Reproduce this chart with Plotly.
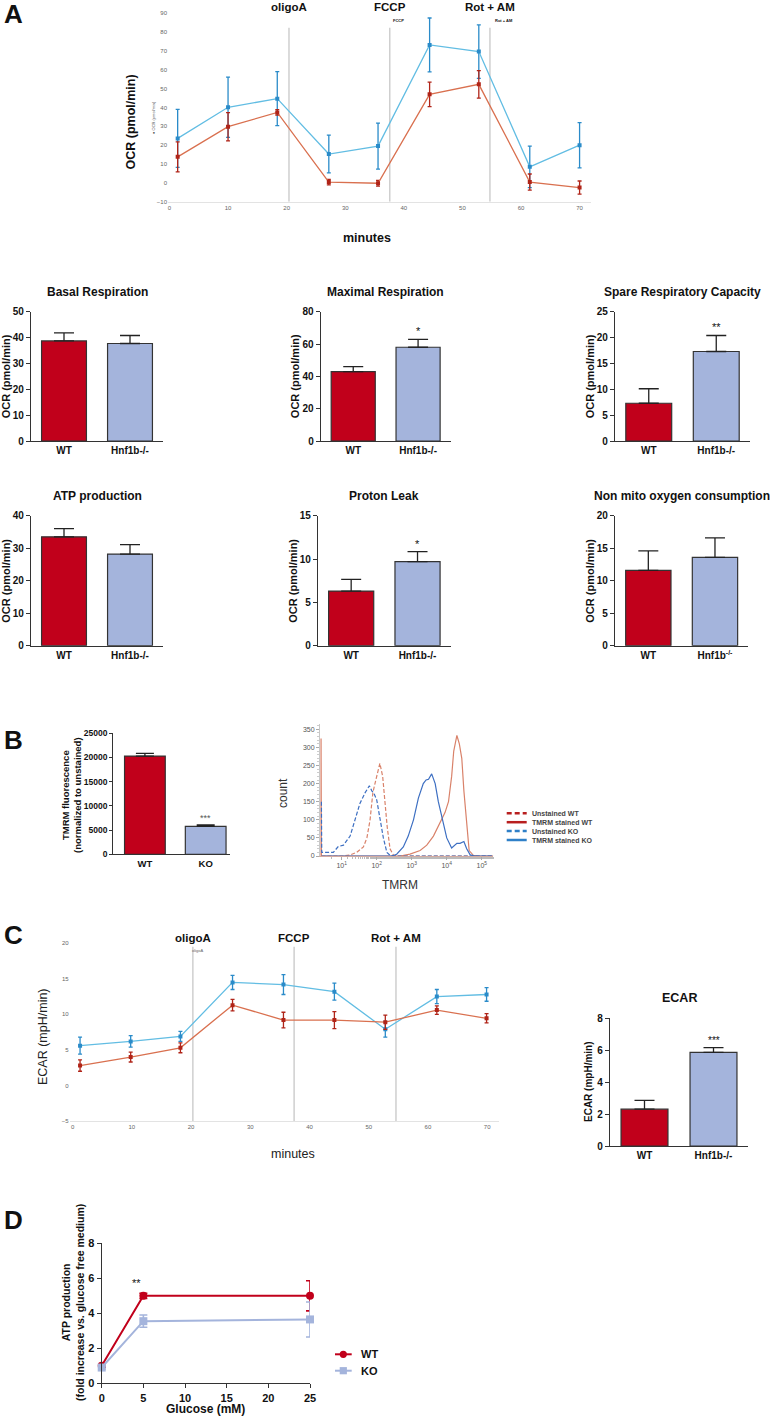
import numpy as np
import plotly.graph_objects as go

W, H = 775, 1421

# ---- data ----
# A: OCR time course (Seahorse)
time_a = [1.4, 10.0, 18.4, 27.2, 35.6, 44.4, 52.8, 61.5, 70.0]
ocr_ko = [23.6, 40.1, 44.7, 15.3, 19.5, 73.2, 69.7, 8.5, 20.0]
ocr_ko_err = [15.4, 16.0, 14.3, 10.0, 12.2, 14.3, 14.2, 11.0, 12.0]
ocr_wt = [13.8, 29.8, 37.4, 0.4, -0.2, 47.0, 52.3, 0.4, -2.5]
ocr_wt_err = [8.0, 7.5, 1.5, 1.5, 1.5, 6.5, 7.3, 4.3, 3.5]
inject_a = [20.4, 37.6, 54.7]
inject_labels = ["oligoA", "FCCP", "Rot + AM"]

# A: bar summaries
groups = ["WT", "Hnf1b-/-"]
basal = [38.7, 37.7]
basal_err = [3.1, 3.1]
maximal = [42.9, 58.0]
maximal_err = [3.1, 4.9]
spare = [7.3, 17.3]
spare_err = [2.8, 3.1]
atp = [33.5, 28.2]
atp_err = [2.5, 2.9]
leak = [6.3, 9.7]
leak_err = [1.35, 1.15]
nonmito = [11.6, 13.6]
nonmito_err = [3.0, 3.0]

# B
tmrm_groups = ["WT", "KO"]
tmrm = [20300, 5750]
tmrm_err = [550, 300]

# B histogram (log10 TMRM, count)
unst_ko_log = [0.42, 0.43, 0.47, 0.76, 0.90, 1.05, 1.24, 1.38, 1.52, 1.67, 1.79, 1.86, 1.92, 2.00, 2.09, 2.19, 2.29, 2.38, 2.52, 5.30]
unst_ko_cnt = [150, 10, 10, 10, 26, 30, 55, 99, 145, 175, 194, 180, 173, 155, 100, 50, 10, 2, 0, 0]
unst_wt_log = [0.42, 1.05, 1.24, 1.43, 1.62, 1.72, 1.81, 1.89, 1.95, 2.02, 2.09, 2.17, 2.23, 2.30, 2.38, 2.48, 2.60, 5.30]
unst_wt_cnt = [0, 0, 3, 10, 25, 50, 100, 175, 200, 230, 256, 220, 150, 80, 20, 2, 0, 0]
st_ko_log = [0.42, 2.43, 2.57, 2.76, 2.90, 3.05, 3.19, 3.33, 3.41, 3.48, 3.57, 3.67, 3.76, 3.86, 4.00, 4.14, 4.29, 4.38, 4.49, 4.57, 4.67, 4.81, 5.30]
st_ko_cnt = [0, 0, 5, 25, 55, 100, 160, 200, 210, 212, 227, 200, 150, 110, 50, 22, 35, 35, 40, 20, 3, 0, 0]
st_wt_log = [0.41, 0.41, 0.42, 2.67, 2.95, 3.24, 3.43, 3.62, 3.81, 3.95, 4.05, 4.14, 4.20, 4.29, 4.36, 4.43, 4.49, 4.57, 4.64, 4.76, 4.90, 5.33]
st_wt_cnt = [0, 325, 0, 0, 5, 15, 30, 55, 90, 120, 150, 220, 290, 333, 310, 270, 180, 80, 15, 2, 0, 0]
hist_names = ["Unstained WT", "TMRM stained WT", "Unstained KO", "TMRM stained KO"]
hist_ticks = [10, 100, 1000, 10000, 100000]
hist_ticktext = ["10<sup>1</sup>", "10<sup>2</sup>", "10<sup>3</sup>", "10<sup>4</sup>", "10<sup>5</sup>"]

# C: ECAR time course
time_c = [1.25, 9.8, 18.2, 27.0, 35.6, 44.2, 52.8, 61.5, 69.9]
ecar_ko = [5.6, 6.2, 6.9, 14.5, 14.2, 13.2, 7.9, 12.5, 12.8]
ecar_ko_err = [1.2, 0.8, 0.7, 1.0, 1.4, 1.2, 1.1, 1.0, 0.95]
ecar_wt = [2.8, 4.0, 5.3, 11.3, 9.2, 9.2, 8.9, 10.6, 9.45]
ecar_wt_err = [0.8, 0.7, 0.7, 0.8, 1.1, 1.2, 1.0, 0.6, 0.65]
inject_c = [20.3, 37.4, 54.6]
ecar_bar = [2.3, 5.85]
ecar_bar_err = [0.55, 0.3]

# D
glucose = [0, 5, 25]
atp_wt_d = [1.0, 5.0, 5.0]
atp_wt_d_err = [0.1, 0.15, 0.86]
atp_ko_d = [0.9, 3.55, 3.65]
atp_ko_d_err = [0.1, 0.35, 1.0]

# ---- style ----
RED = "#c1001b"
LAV = "#a4b4dc"
AX = "#333333"
BLUE_LINE = "#62bde3"
BLUE_MARK = "#2a8bc9"
RED_LINE = "#d9704f"
RED_MARK = "#b02418"
SANS = "Liberation Sans, Arial, sans-serif"


def fx(p):
    return p / W


def fy(p):
    return 1 - p / H


def font(size, bold=False, color="#111"):
    return dict(family=SANS, size=size, color=color, weight="bold" if bold else "normal")


fig = go.Figure()
layout = {}
annotations = []
shapes = []


def text(s, x, y, size, bold=False, color="#111", angle=0, xanchor="center", yanchor="middle"):
    annotations.append(dict(text=s, x=fx(x), y=fy(y), xref="paper", yref="paper", showarrow=False,
                            font=font(size, bold, color), textangle=angle,
                            xanchor=xanchor, yanchor=yanchor))


# ---- Seahorse time courses ----
def seahorse(n, t, ko, ko_err, wt, wt_err, xd, yd, yr, dtick, inj, line_top):
    xa, ya = ("x", "y") if n == 1 else (f"x{n}", f"y{n}")
    for vals, errs, lc, mc in [(ko, ko_err, BLUE_LINE, BLUE_MARK), (wt, wt_err, RED_LINE, RED_MARK)]:
        fig.add_trace(go.Scatter(
            x=t, y=vals, mode="lines+markers", xaxis=xa, yaxis=ya, showlegend=False,
            line=dict(color=lc, width=1.3),
            marker=dict(symbol="square", size=4, color=mc),
            error_y=dict(type="data", array=errs, color=mc, thickness=1.3, width=2)))
    key = "" if n == 1 else str(n)
    layout["xaxis" + key] = dict(domain=[fx(xd[0]), fx(xd[1])], range=[-0.5, 72], anchor=ya,
                                 tickvals=list(range(0, 80, 10)), showline=True, linecolor="#e3e3e3",
                                 linewidth=1, ticks="", showgrid=False, zeroline=False,
                                 tickfont=font(6, color="#666"))
    layout["yaxis" + key] = dict(domain=[fy(yd[1]), fy(yd[0])], range=yr, anchor=xa, dtick=dtick,
                                 showline=False, ticks="", showgrid=False, zeroline=False,
                                 tickfont=font(6, color="#666"))
    for tv in inj:
        shapes.append(dict(type="line", xref=xa, yref=ya, x0=tv, x1=tv, y0=line_top, y1=yr[0],
                           line=dict(color="#cfcfcf", width=1.5), layer="below"))


seahorse(1, time_a, ocr_ko, ocr_ko_err, ocr_wt, ocr_wt_err, (168, 591.3), (13.3, 201.7),
         [-10, 90], 10, inject_a, 82.3)
layout["xaxis"]["range"] = [-0.25, 72]
for tv, lab in zip(inject_a, inject_labels):
    annotations.append(dict(text=lab, x=tv, xref="x", y=fy(7), yref="paper", showarrow=False,
                            font=font(11.5, True), xanchor="center", yanchor="middle"))
text("FCCP", 391, 20.7, 4, True, xanchor="left")
text("Rot + AM", 493, 20.7, 4, True, xanchor="left")
text("● OCR (pmol/min)", 154, 118, 4, color="#555", angle=-90)
text("OCR (pmol/min)", 130, 122.5, 12.5, True, angle=-90)
text("minutes", 367, 238, 12.5, True)
text("A", 2, 14, 26, True, xanchor="left")


# ---- bars ----
def bars(n, labels, vals, errs, xd, yd, xr, ymax, dtick, tick_size=10, lab_size=10,
         width=0.68, cap=10):
    xa, ya = f"x{n}", f"y{n}"
    fig.add_trace(go.Bar(
        x=[0, 1], y=vals, width=width, xaxis=xa, yaxis=ya, showlegend=False,
        marker=dict(color=[RED, LAV], line=dict(color=AX, width=1.2)),
        error_y=dict(type="data", symmetric=False, array=errs, arrayminus=[0, 0],
                     color="#222", thickness=1.3, width=cap)))
    layout[f"xaxis{n}"] = dict(domain=[fx(xd[0]), fx(xd[1])], range=xr, anchor=ya,
                               tickvals=[0, 1], ticktext=labels, showline=True, linecolor=AX,
                               linewidth=1.2, ticks="", showgrid=False, zeroline=False,
                               tickfont=font(lab_size, True))
    layout[f"yaxis{n}"] = dict(domain=[fy(yd[1]), fy(yd[0])], range=[0, ymax], anchor=xa,
                               dtick=dtick, showline=True, linecolor=AX, linewidth=1.2,
                               ticks="outside", ticklen=4, tickwidth=1.2, tickcolor=AX,
                               showgrid=False, zeroline=False, tickformat="d",
                               tickfont=font(tick_size, True))


def star(n, idx, vals, errs, s, color="#111", size=11):
    annotations.append(dict(text=s, x=idx, y=vals[idx] + errs[idx], xref=f"x{n}", yref=f"y{n}",
                            showarrow=False, yanchor="bottom", yshift=0, font=font(size, False, color)))


row1 = (311.7, 441)
row2 = (515.7, 645.7)
cols = [(31, 163), (320.8, 450.5), (615, 750)]
grp_sup = ["WT", "Hnf1b<sup>-/-</sup>"]

bars(2, groups, basal, basal_err, cols[0], row1, [-0.5, 1.5], 50, 10)
bars(3, groups, maximal, maximal_err, cols[1], row1, [-0.5, 1.5], 80, 20)
bars(4, groups, spare, spare_err, cols[2], row1, [-0.5, 1.5], 25, 5)
bars(5, groups, atp, atp_err, cols[0], row2, [-0.5, 1.5], 40, 10)
bars(6, groups, leak, leak_err, (318, 450.7), row2, [-0.5, 1.5], 15, 5)
bars(7, grp_sup, nonmito, nonmito_err, (615, 748.3), row2, [-0.5, 1.5], 20, 5)
star(3, 1, maximal, maximal_err, "*")
star(4, 1, spare, spare_err, "**")
star(6, 1, leak, leak_err, "*")

titles = [("Basal Respiration", cols[0], row1), ("Maximal Respiration", cols[1], row1),
          ("Spare Respiratory Capacity", cols[2], row1), ("ATP production", cols[0], row2),
          ("Proton Leak", (318, 450.7), row2), ("Non mito oxygen consumption", (615, 748.3), row2)]
for t, xd, yd in titles:
    text(t, (xd[0] + xd[1]) / 2, yd[0] - 20, 12, True)
    text("OCR (pmol/min)", xd[0] - 25, (yd[0] + yd[1]) / 2, 11, True, angle=-90)

# ---- B ----
bars(8, tmrm_groups, tmrm, tmrm_err, (113.3, 230), (733.3, 854.3), [-0.52, 1.4], 25000, 5000,
     tick_size=8.5, lab_size=9.5, width=0.67, cap=9)
layout["yaxis8"]["ticklen"] = 3
star(8, 1, tmrm, tmrm_err, "***", color="#555", size=9)
text("TMRM fluorescence<br>(normalized to unstained)", 72, 795, 9.5, True, angle=-90)
text("B", 2, 740, 26, True, xanchor="left")

hist_sets = [(unst_wt_log, unst_wt_cnt, "#d9826a", "4px,2px"),
             (st_wt_log, st_wt_cnt, "#d9826a", "solid"),
             (unst_ko_log, unst_ko_cnt, "#3d6fc2", "4px,2px"),
             (st_ko_log, st_ko_cnt, "#3d6fc2", "solid")]
for lg, cnt, col, dash in hist_sets:
    fig.add_trace(go.Scatter(x=10 ** np.array(lg), y=cnt, mode="lines", xaxis="x9", yaxis="y9",
                             showlegend=False, line=dict(color=col, width=1.2, dash=dash)))
layout["xaxis9"] = dict(domain=[fx(320), fx(493.3)], type="log", range=[0.38, 5.33], anchor="y9",
                        tickvals=hist_ticks, ticktext=hist_ticktext, showline=True, linecolor="#d4aaa0",
                        linewidth=1, ticks="outside", ticklen=3, tickcolor="#aaa",
                        minor=dict(ticks="outside", ticklen=2, tickcolor="#bbb"),
                        showgrid=False, zeroline=False, tickfont=font(7, color="#555"))
layout["yaxis9"] = dict(domain=[fy(856), fy(723.9)], range=[0, 365], anchor="x9", dtick=50,
                        showline=True, linecolor="#c8c8c8", linewidth=1, ticks="outside",
                        ticklen=3, tickcolor="#aaa",
                        minor=dict(ticks="outside", ticklen=2, tickcolor="#ccc", dtick=10),
                        showgrid=False, zeroline=False, tickfont=font(7, color="#555"))
text("count", 283, 793, 12, angle=-90, color="#333")
text("TMRM", 399.5, 885, 12, color="#333")
leg_cols = ["#b81f1f", "#b81f1f", "#2f80c8", "#2f80c8"]
leg_dash = ["5px,3px", "solid", "5px,3px", "solid"]
for i, name in enumerate(hist_names):
    yy = 813.3 + i * 8.9
    shapes.append(dict(type="line", xref="paper", yref="paper", x0=fx(506.7), x1=fx(526.7),
                       y0=fy(yy), y1=fy(yy), line=dict(color=leg_cols[i], width=2.5, dash=leg_dash[i])))
    text(name, 530, yy, 7, True, color="#444", xanchor="left")

# ---- C ----
seahorse(10, time_c, ecar_ko, ecar_ko_err, ecar_wt, ecar_wt_err, (69.7, 499), (943.3, 1121),
         [-5, 20], 5, inject_c, 19.5)
for tv, lab in zip(inject_c, inject_labels):
    annotations.append(dict(text=lab, x=tv, xref="x10", y=fy(938), yref="paper", showarrow=False,
                            font=font(11.5, True), xanchor="center", yanchor="middle"))
text("oligoA", 197.5, 950.5, 4, color="#666")
text("ECAR (mpH/min)", 43, 1037, 12.5, angle=-90, color="#222")
text("minutes", 292.7, 1154.3, 12.5, color="#222")
text("C", 2, 935, 26, True, xanchor="left")

bars(11, groups, ecar_bar, ecar_bar_err, (610, 748), (1018, 1146), [-0.5, 1.5], 8, 2)
star(11, 1, ecar_bar, ecar_bar_err, "***", size=10)
text("ECAR", 679, 997.7, 12.5, True)
text("ECAR (mpH/min)", 588, 1082, 10, True, angle=-90)

# ---- D ----
for vals, errs, col, sym in [(atp_wt_d, atp_wt_d_err, RED, "circle"), (atp_ko_d, atp_ko_d_err, LAV, "square")]:
    fig.add_trace(go.Scatter(x=glucose, y=vals, mode="lines+markers", xaxis="x12", yaxis="y12",
                             showlegend=False, cliponaxis=False,
                             line=dict(color=col, width=2), marker=dict(symbol=sym, size=8, color=col),
                             error_y=dict(type="data", array=errs, color=col, thickness=1.6, width=4)))
layout["xaxis12"] = dict(domain=[fx(101.7), fx(310)], range=[0, 25], anchor="y12", dtick=5,
                         showline=True, linecolor=AX, linewidth=1.2, ticks="outside", ticklen=4,
                         tickwidth=1.2, tickcolor=AX, showgrid=False, zeroline=False,
                         tickfont=font(11, True))
layout["yaxis12"] = dict(domain=[fy(1383.3), fy(1243.3)], range=[0, 8], anchor="x12", dtick=2,
                         showline=True, linecolor=AX, linewidth=1.2, ticks="outside", ticklen=4,
                         tickwidth=1.2, tickcolor=AX, showgrid=False, zeroline=False,
                         tickfont=font(11, True))
annotations.append(dict(text="**", x=glucose[1], y=atp_wt_d[1] + atp_wt_d_err[1], xref="x12", yref="y12",
                        showarrow=False, yanchor="bottom", xshift=-7, yshift=2, font=font(11)))
text("Glucose (mM)", 205.7, 1409.3, 12, True)
text("ATP production<br>(fold increase vs. glucose free medium)", 73, 1303, 10.5, True, angle=-90)
text("D", 2, 1220, 26, True, xanchor="left")
for i, (name, col, shp) in enumerate([("WT", RED, "circle"), ("KO", LAV, "rect")]):
    yy = 1354.3 + i * 16.4
    shapes.append(dict(type="line", xref="paper", yref="paper", x0=fx(335), x1=fx(351.7),
                       y0=fy(yy), y1=fy(yy), line=dict(color=col, width=2)))
    shapes.append(dict(type=shp, xref="paper", yref="paper", x0=fx(343.3 - 3.6), x1=fx(343.3 + 3.6),
                       y0=fy(yy + 3.6), y1=fy(yy - 3.6), fillcolor=col, line=dict(color=col, width=0)))
    text(name, 359, yy, 11, True, xanchor="left")

fig.update_layout(
    template="none", width=W, height=H, margin=dict(l=0, r=0, t=0, b=0),
    paper_bgcolor="white", plot_bgcolor="white", font=dict(family=SANS),
    annotations=annotations, shapes=shapes, **layout)

# the browser's default 8px body margin would shift the whole figure
fig.write_html("out.html", config={"displayModeBar": False},
               post_script="document.body.style.margin='0';")
